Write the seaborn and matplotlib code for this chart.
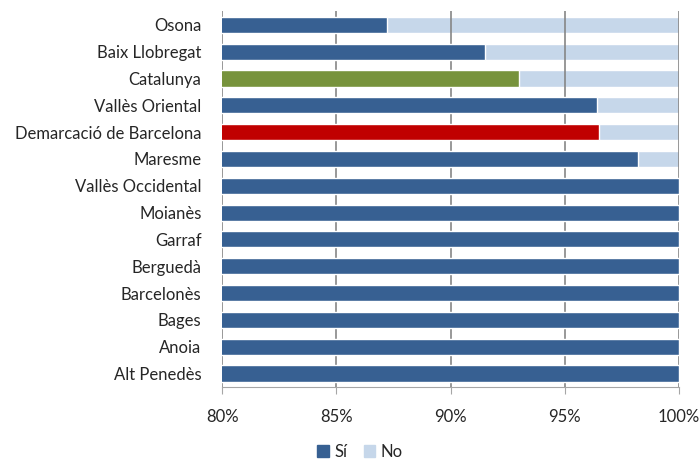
import numpy as np
import pandas as pd
import matplotlib.pyplot as plt
import seaborn as sns
from matplotlib.patches import Patch

# ----------------------------------------------------------
# Data
# ----------------------------------------------------------

categories = [
    "Osona", "Baix Llobregat", "Catalunya", "Vallès Oriental",
    "Demarcació de Barcelona", "Maresme", "Vallès Occidental", "Moianès",
    "Garraf", "Berguedà", "Barcelonès", "Bages", "Anoia", "Alt Penedès",
]
si_values = [87.2, 91.5, 93.0, 96.4, 96.5, 98.2, 100, 100, 100, 100, 100, 100, 100, 100]
no_values = [100 - v for v in si_values]
x_ticks = [80, 85, 90, 95, 100]

COL_SI   = "#376092"
COL_NO   = "#C6D7EA"
COL_CAT  = "#77933C"
COL_DEM  = "#C00000"

df = pd.DataFrame({"comarca": categories, "si": si_values, "no": no_values})
df["total"] = df["si"] + df["no"]

bar_colors = {c: COL_SI for c in categories}
bar_colors["Catalunya"] = COL_CAT
bar_colors["Demarcació de Barcelona"] = COL_DEM

# ----------------------------------------------------------
# Plot
# ----------------------------------------------------------

sns.set_style("white")
plt.rcParams["font.family"] = ["Lato", "DejaVu Sans"]

fig, ax = plt.subplots(figsize=(6.99, 4.59), dpi=100)
fig.subplots_adjust(left=0.318, right=0.971, top=0.975, bottom=0.157)

# "No" part: full stacked total underneath
sns.barplot(data=df, x="total", y="comarca", order=categories,
            color=COL_NO, width=0.6, ax=ax, zorder=2, saturation=1)
# "Sí" part on top
sns.barplot(data=df, x="si", y="comarca", order=categories,
            hue="comarca", palette=bar_colors, legend=False,
            width=0.6, ax=ax, zorder=3, saturation=1)

ax.set_xlim(80, 100)
ax.set_xticks(x_ticks)
ax.set_xticklabels([f"{t}%" for t in x_ticks], fontsize=12)
ax.set_ylim(len(categories) - 0.5, -0.5)
ax.tick_params(axis="y", labelsize=12, length=0, pad=15)
ax.tick_params(axis="x", length=5, color="#A6A6A6", direction="out", pad=11, bottom=True)
ax.set_xlabel("")
ax.set_ylabel("")

# grid sits above the light "No" bars but below the "Sí" bars
ax.set_axisbelow(False)
ax.grid(axis="x", color="#868686", linewidth=1.2)
for side in ["top", "right", "left"]:
    ax.spines[side].set_visible(False)
ax.spines["bottom"].set_color("#A6A6A6")

handles = [Patch(color=COL_SI, label="Sí"), Patch(color=COL_NO, label="No")]
fig.legend(handles=handles, loc="lower center", ncol=2, frameon=False,
           bbox_to_anchor=(0.515, -0.035), fontsize=12, handlelength=0.7,
           handleheight=0.7, handletextpad=0.3, columnspacing=1.0)

plt.savefig("out.png", dpi=100)
plt.close()
